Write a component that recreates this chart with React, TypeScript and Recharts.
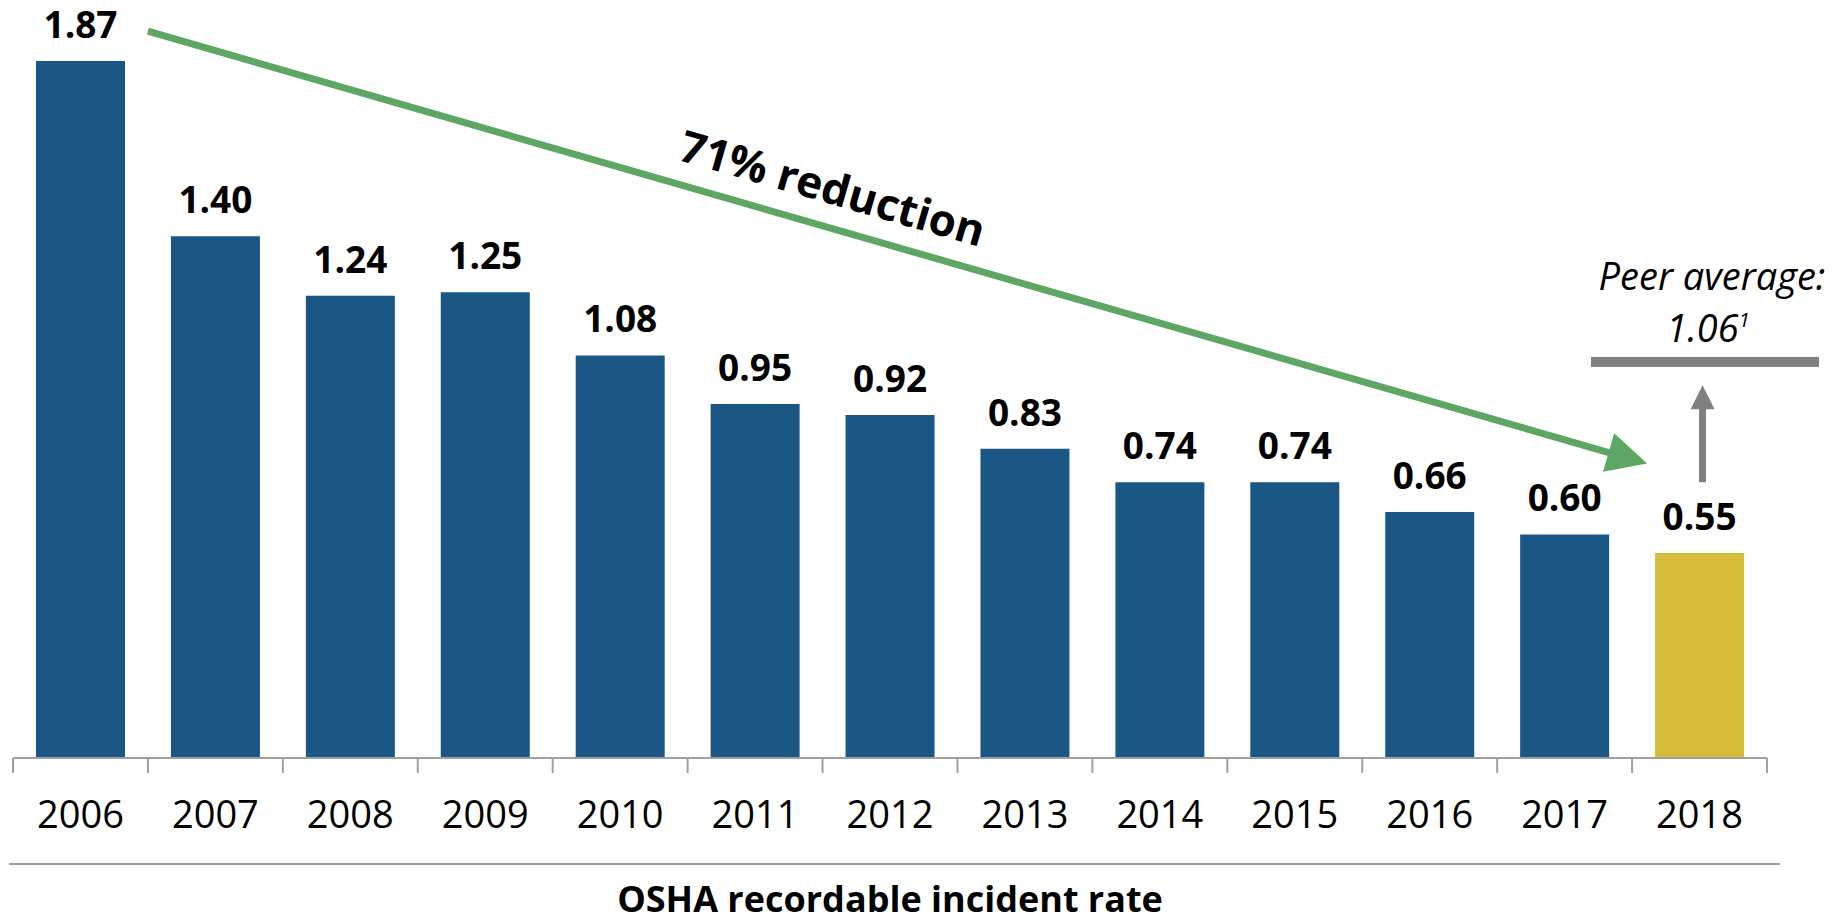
import React from "react";
import { BarChart, Bar, XAxis, YAxis, Cell, LabelList, Customized } from "recharts";

const years = ["2006", "2007", "2008", "2009", "2010", "2011", "2012", "2013", "2014", "2015", "2016", "2017", "2018"];
const rates = [1.87, 1.4, 1.24, 1.25, 1.08, 0.95, 0.92, 0.83, 0.74, 0.74, 0.66, 0.6, 0.55];
const peerAverage = 1.06;
const reductionText = "71% reduction";
const peerText = "Peer average:";
const chartTitle = "OSHA recordable incident rate";

const data = years.map((year, i) => ({ year, rate: rates[i] }));

const W = 1839;
const H = 920;
const LEFT = 13;
const RIGHT = 1767;
const BOTTOM = 758;
const Y_MAX = 2;
const TOP = 12.6;
const BAND = (RIGHT - LEFT) / years.length;

const BLUE = "#1A5785";
const GOLD = "#D6BC3B";
const GREEN = "#5EA664";
const GREY = "#808080";
const AXIS = "#A0A0A0";
const FONT = "'Open Sans', sans-serif";

const yOf = (v: number) => BOTTOM - (v * (BOTTOM - TOP)) / Y_MAX;
const edge = (i: number) => LEFT + i * BAND;

const YearTick = (props: any) => {
  const { x, payload, index } = props;
  return (
    <g>
      <line x1={x - BAND / 2} x2={x - BAND / 2} y1={BOTTOM} y2={BOTTOM + 15} stroke={AXIS} strokeWidth={2} />
      {index === years.length - 1 && (
        <line x1={x + BAND / 2} x2={x + BAND / 2} y1={BOTTOM} y2={BOTTOM + 15} stroke={AXIS} strokeWidth={2} />
      )}
      <text x={x} y={828} textAnchor="middle" fontFamily={FONT} fontSize={38} fill="#000">
        {payload.value}
      </text>
    </g>
  );
};

const ValueLabel = (props: any) => {
  const { x, y, width, value } = props;
  return (
    <text x={x + width / 2} y={y - 23} textAnchor="middle" fontFamily={FONT} fontWeight={700} fontSize={37} fill="#000">
      {Number(value).toFixed(2)}
    </text>
  );
};

const Annotations = () => {
  // green trend arrow
  const x1 = edge(1);
  const y1 = yOf(1.95);
  const x2 = edge(12) + 15;
  const y2 = yOf(0.79);
  const len = Math.hypot(x2 - x1, y2 - y1);
  const ux = (x2 - x1) / len;
  const uy = (y2 - y1) / len;
  const head = 40;
  const half = 20;
  const bx = x2 - ux * head;
  const by = y2 - uy * head;
  const angle = (Math.atan2(y2 - y1, x2 - x1) * 180) / Math.PI;
  const tx = 833;
  const ty = 187;

  // peer average marker
  const ax = edge(12) + BAND / 2 + 3;
  const aBottom = yOf(0.74);
  const aTip = yOf(1.0);
  const peerY = yOf(peerAverage);

  return (
    <g>
      <line x1={x1} y1={y1} x2={bx + ux * 2} y2={by + uy * 2} stroke={GREEN} strokeWidth={7} />
      <polygon
        points={`${x2},${y2} ${bx - uy * half},${by + ux * half} ${bx + uy * half},${by - ux * half}`}
        fill={GREEN}
      />
      <text
        x={tx}
        y={ty}
        transform={`rotate(${angle} ${tx} ${ty})`}
        textAnchor="middle"
        dominantBaseline="central"
        fontFamily={FONT}
        fontWeight={700}
        fontSize={44}
        fill="#000"
      >
        {reductionText}
      </text>

      <line x1={ax} x2={ax} y1={aBottom} y2={aTip + 22} stroke={GREY} strokeWidth={7} />
      <polygon points={`${ax},${aTip} ${ax - 12},${aTip + 24} ${ax + 12},${aTip + 24}`} fill={GREY} />
      <rect x={1591} y={peerY - 6} width={228} height={10} fill={GREY} />
      <text x={1712} y={290} textAnchor="middle" fontFamily={FONT} fontStyle="italic" fontSize={38} fill="#000">
        {peerText}
      </text>
      <text x={1708} y={342} textAnchor="middle" fontFamily={FONT} fontStyle="italic" fontSize={38} fill="#000">
        {peerAverage.toFixed(2)}
        <tspan fontSize={20} dy={-15}>1</tspan>
      </text>

      <line x1={9} x2={1780} y1={864} y2={864} stroke={AXIS} strokeWidth={2} />
      <text x={(LEFT + RIGHT) / 2} y={912} textAnchor="middle" fontFamily={FONT} fontWeight={700} fontSize={36} fill="#000">
        {chartTitle}
      </text>
    </g>
  );
};

export default function App() {
  return (
    <div style={{ position: "absolute", left: 0, top: 0, width: W, height: H, background: "#fff" }}>
      <BarChart
        width={W}
        height={H}
        data={data}
        margin={{ top: TOP, right: W - RIGHT, left: LEFT, bottom: 0 }}
        barSize={89}
      >
        <YAxis hide domain={[0, Y_MAX]} />
        <XAxis
          dataKey="year"
          height={H - BOTTOM}
          axisLine={{ stroke: AXIS, strokeWidth: 2 }}
          tickLine={false}
          tick={<YearTick />}
          interval={0}
        />
        <Bar dataKey="rate" isAnimationActive={false}>
          {data.map((d, i) => (
            <Cell key={d.year} fill={i === data.length - 1 ? GOLD : BLUE} />
          ))}
          <LabelList dataKey="rate" content={<ValueLabel />} />
        </Bar>
        <Customized component={<Annotations />} />
      </BarChart>
    </div>
  );
}
